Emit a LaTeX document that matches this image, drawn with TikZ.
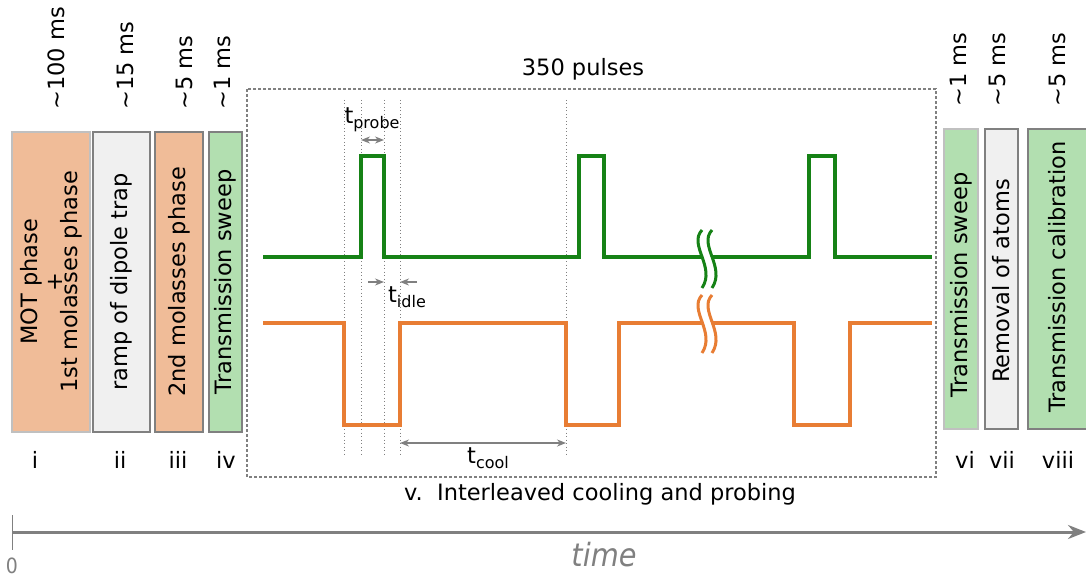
\documentclass[tikz,border=0pt]{standalone}
\usepackage{fontspec}
\setmainfont{DejaVu Sans}
\newfontfamily\condfont{DejaVu Sans Condensed}
\usetikzlibrary{arrows.meta}
\definecolor{salmon}{RGB}{240,188,152}
\definecolor{paper}{RGB}{240,240,240}
\definecolor{mint}{RGB}{178,223,176}
\definecolor{probeg}{RGB}{22,130,22}
\definecolor{coolo}{RGB}{232,125,52}
\definecolor{frame}{RGB}{128,128,128}
\definecolor{lframe}{RGB}{192,192,192}
\newcommand{\tsub}[1]{t\raisebox{-0.4ex}{\fontsize{16}{16}\selectfont #1}}
\newcommand{\wavy}[3]{% x, y, colour
  \draw[white, line width=7pt] (#1+5,#2-28) .. controls (#1-9,#2-13) and (#1+19,#2+9) .. (#1+5,#2+30);
  \draw[#3, line width=3pt] (#1,#2-28) .. controls (#1-14,#2-13) and (#1+14,#2+9) .. (#1,#2+30);
  \draw[#3, line width=3pt] (#1+10,#2-28) .. controls (#1-4,#2-13) and (#1+24,#2+9) .. (#1+10,#2+30);
}

\begin{document}
\begin{tikzpicture}[x=1pt, y=-1pt, font=\fontsize{22.5}{26}\selectfont,
    phase/.style={draw=frame, line width=2.5pt},
    lbl/.style={rotate=90, align=center},
    dur/.style={rotate=90, anchor=west, inner sep=0pt},
    guide/.style={frame, line width=0.9pt, dash pattern=on 1pt off 2.5pt},
    dim/.style={frame, line width=1.8pt, {Stealth[length=9pt,width=7pt]}-{Stealth[length=9pt,width=7pt]}},
    pointer/.style={frame, line width=1.8pt, -{Stealth[length=9pt,width=7pt]}},
    signal/.style={line width=3.8pt, line join=miter}]
  \useasboundingbox (0,0) rectangle (1086,580);

  % phases before the pulse train
  \draw[phase, draw=lframe, fill=salmon] (12,132) rectangle (90,432);
  \draw[phase, fill=paper] (93,132) rectangle (150,432);
  \draw[phase, fill=salmon] (155,132) rectangle (203,432);
  \draw[phase, fill=mint] (209,132) rectangle (242,432);
  \node[lbl] (mot) at (51,282) {MOT phase\\[-1pt]+\\[-11pt]1st molasses phase};
  \node[lbl] (ramp) at (121.5,282) {ramp of dipole trap};
  \node[lbl] (mol) at (179,282) {2nd molasses phase};
  \node[lbl] (sweep) at (225.5,282) {Transmission sweep};

  % phases after the pulse train
  \draw[phase, draw=lframe, fill=mint] (944,129) rectangle (978,429);
  \draw[phase, fill=paper] (985,129) rectangle (1018,429);
  \draw[phase, fill=mint] (1028,129) rectangle (1090,429);
  \node[lbl] (sweepb) at (961,285) {Transmission sweep};
  \node[lbl] (remove) at (1001.5,281) {Removal of atoms};
  \node[lbl] (calib) at (1057,277) {Transmission calibration};

  % durations
  \foreach \x/\t [count=\i] in {56/{\~{}100 ms}, 125/{\~{}15 ms}, 184/{\~{}5 ms}, 222/{\~{}1 ms}} {
    \node[dur] (d\i) at (\x,110) {\t};
  }
  \foreach \x/\t [count=\i] in {958/{\~{}1 ms}, 997/{\~{}5 ms}, 1057/{\~{}5 ms}} {
    \node[dur] (e\i) at (\x,107) {\t};
  }

  % numbering
  \foreach \x/\t in {35/i, 120/ii, 178/iii, 226/iv, 965/vi, 1002/vii, 1058/viii} {
    \node (n\t) at (\x,460) {\t};
  }

  % pulse train
  \draw[frame, line width=1.2pt, dash pattern=on 3pt off 2pt] (247,89) rectangle (936,477);
  \node (count) at (583,69) {350 pulses};
  \node (train) at (600,494) {v.~~Interleaved cooling and probing};

  \foreach \x [count=\i] in {344,361,384,400,566} {
    \coordinate (g\i) at (\x,100);
    \draw[guide] (g\i) -- (\x,455);
  }

  \draw[signal, probeg] (263,257) -- (361,257) -- (361,156) -- (384,156) -- (384,257)
    -- (579,257) -- (579,156) -- (604,156) -- (604,257)
    -- (809,257) -- (809,156) -- (835,156) -- (835,257) -- (932,257);
  \draw[signal, coolo] (263,323) -- (344,323) -- (344,425) -- (400,425) -- (400,323)
    -- (566,323) -- (566,425) -- (619,425) -- (619,323)
    -- (794,323) -- (794,425) -- (850,425) -- (850,323) -- (932,323);
  \wavy{702}{258}{probeg}
  \wavy{702}{323}{coolo}

  % durations inside the train
  \draw[dim] (g2 |- 0,140) -- (g3 |- 0,140);
  \node (tp) at (372,120) {\tsub{probe}};
  \draw[pointer] (368,282) -- (g3 |- 0,282);
  \draw[pointer] (417,282) -- (g4 |- 0,282);
  \node (ti) at (407,297) {\tsub{idle}};
  \draw[dim] (g4 |- 0,443) -- (g5 |- 0,443);
  \node (tc) at (488,458) {\tsub{cool}};

  % time axis
  \coordinate (origin) at (12,532);
  \coordinate (tend) at (1086,532);
  \draw[frame, line width=1pt] (12,515) -- (12,550);
  \draw[frame, line width=3pt, -{Stealth[length=18pt,width=14pt]}] (origin) -- (tend);
  \node[frame, font=\condfont\fontsize{21}{21}\selectfont] (zero) at (12,566) {0};
  \node[frame, font=\condfont\itshape\fontsize{32}{32}\selectfont] (time) at (604,555) {time};
\end{tikzpicture}
\end{document}
